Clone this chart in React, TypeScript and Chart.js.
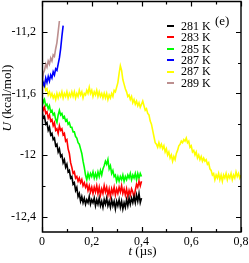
import React, { useEffect, useRef } from "react";
import { Chart, registerables } from "chart.js";

Chart.register(...registerables);

// ---- data ----
const tStep = 0.005;
const labels = ["281 K", "283 K", "285 K", "287 K", "287 K", "289 K"];
const colors = ["#000000", "#ff0000", "#00ff00", "#0000ff", "#ffff00", "#bc8f8f"];

const u281 = [
  -11.71, -11.76, -11.75, -11.8, -11.79, -11.84, -11.82, -11.87, -11.86, -11.9,
  -11.89, -11.94, -11.93, -11.98, -11.96, -12.01, -12.0, -12.05, -12.03, -12.08,
  -12.06, -12.11, -12.1, -12.15, -12.14, -12.19, -12.18, -12.23, -12.21, -12.27,
  -12.25, -12.3, -12.27, -12.31, -12.28, -12.32, -12.29, -12.31, -12.27, -12.32,
  -12.29, -12.31, -12.28, -12.33, -12.29, -12.32, -12.28, -12.33, -12.3, -12.34,
  -12.29, -12.32, -12.28, -12.33, -12.3, -12.34, -12.29, -12.33, -12.3, -12.35,
  -12.3, -12.33, -12.29, -12.34, -12.3, -12.35, -12.31, -12.34, -12.29, -12.33,
  -12.28, -12.32, -12.28, -12.31, -12.27, -12.31, -12.26, -12.3, -12.25, -12.31,
  -12.28,
];
const u283 = [
  -11.67, -11.71, -11.69, -11.73, -11.72, -11.76, -11.74, -11.78, -11.77, -11.81,
  -11.79, -11.84, -11.83, -11.86, -11.81, -11.84, -11.83, -11.87, -11.86, -11.91,
  -11.9, -11.96, -11.99, -12.05, -12.08, -12.12, -12.11, -12.15, -12.14, -12.17,
  -12.15, -12.18, -12.16, -12.2, -12.18, -12.21, -12.19, -12.23, -12.2, -12.24,
  -12.21, -12.25, -12.21, -12.24, -12.2, -12.25, -12.21, -12.26, -12.22, -12.25,
  -12.2, -12.24, -12.21, -12.26, -12.22, -12.27, -12.22, -12.25, -12.21, -12.26,
  -12.22, -12.25, -12.21, -12.24, -12.2, -12.25, -12.22, -12.26, -12.22, -12.27,
  -12.23, -12.26, -12.22, -12.24, -12.28, -12.23, -12.19, -12.21, -12.17, -12.2,
  -12.17,
];
const u285 = [
  -11.62, -11.66, -11.64, -11.68, -11.67, -11.7, -11.68, -11.72, -11.71, -11.74,
  -11.73, -11.77, -11.79, -11.74, -11.71, -11.74, -11.73, -11.76, -11.75, -11.78,
  -11.77, -11.8, -11.79, -11.82, -11.82, -11.85, -11.85, -11.88, -11.89, -11.92,
  -11.93, -11.96, -11.99, -12.04, -12.08, -12.13, -12.16, -12.12, -12.15, -12.12,
  -12.14, -12.11, -12.15, -12.12, -12.15, -12.11, -12.14, -12.1, -12.13, -12.09,
  -12.07, -12.04, -12.06, -12.03, -12.09, -12.07, -12.12, -12.1, -12.14, -12.13,
  -12.17, -12.14, -12.17, -12.14, -12.16, -12.13, -12.17, -12.14, -12.16, -12.13,
  -12.15, -12.12, -12.16, -12.13, -12.15, -12.12, -12.16, -12.12, -12.15, -12.12,
  -12.14,
];
const u287a = [
  -11.57, -11.53, -11.55, -11.5, -11.53, -11.49, -11.52, -11.48, -11.5, -11.46,
  -11.48, -11.44, -11.45, -11.41, -11.37, -11.31, -11.23, -11.16,
];
const u287b = [
  -11.51, -11.55, -11.53, -11.58, -11.57, -11.61, -11.59, -11.62, -11.6, -11.63,
  -11.61, -11.64, -11.6, -11.63, -11.6, -11.62, -11.59, -11.63, -11.6, -11.62,
  -11.59, -11.63, -11.6, -11.62, -11.59, -11.62, -11.59, -11.63, -11.6, -11.62,
  -11.58, -11.61, -11.59, -11.63, -11.6, -11.61, -11.58, -11.6, -11.56, -11.6,
  -11.58, -11.62, -11.59, -11.61, -11.58, -11.62, -11.59, -11.62, -11.6, -11.63,
  -11.6, -11.63, -11.6, -11.64, -11.61, -11.63, -11.6, -11.62, -11.58, -11.59,
  -11.56, -11.53, -11.47, -11.42, -11.45, -11.51, -11.54, -11.57, -11.59, -11.62,
  -11.61, -11.64, -11.62, -11.66, -11.64, -11.67, -11.65, -11.68, -11.66, -11.69,
  -11.67, -11.65, -11.68, -11.71, -11.7, -11.73, -11.74, -11.78, -11.8, -11.84,
  -11.88, -11.92, -11.93, -11.95, -11.92, -11.95, -11.93, -11.96, -11.94, -11.98,
  -11.96, -12.0, -11.98, -12.02, -12.0, -12.04, -12.01, -12.03, -11.99, -11.97,
  -11.94, -11.93, -11.91, -11.92, -11.9, -11.91, -11.89, -11.92, -11.91, -11.95,
  -11.94, -11.98, -11.97, -12.0, -11.98, -12.02, -12.0, -12.03, -12.01, -12.04,
  -12.02, -12.04, -12.03, -12.06, -12.05, -12.09, -12.1, -12.13, -12.12, -12.16,
  -12.13, -12.15, -12.12, -12.16, -12.13, -12.17, -12.13, -12.15, -12.12, -12.16,
  -12.13, -12.15, -12.12, -12.16, -12.13, -12.15, -12.11, -12.14, -12.12, -12.15,
  -12.13,
];
const u289 = [
  -11.55, -11.47, -11.45, -11.41, -11.43, -11.39, -11.41, -11.37, -11.39, -11.35,
  -11.36, -11.31, -11.27, -11.2, -11.13,
];

const xTickValues = [0, 0.2, 0.4, 0.6, 0.8];
const xTickLabels = ["0", "0,2", "0,4", "0,6", "0,8"];
const xMinorValues = [0.1, 0.3, 0.5, 0.7];
const yTickValues = [-12.4, -12, -11.6, -11.2];
const yTickLabels = ["-12,4", "-12", "-11,6", "-11,2"];
const yMinorValues = [-12.2, -11.8, -11.4];
const xRange = [0, 0.8];
const yRange = [-12.5, -11.0];

const series = [u281, u283, u285, u287a, u287b, u289];

const FONT = "'Liberation Serif', 'Times New Roman', serif";

function toPoints(arr: number[]) {
  return arr.map((v, i) => ({ x: +(i * tStep).toFixed(4), y: v }));
}

const framePlugin = {
  id: "frameTicks",
  afterDraw(chart: any) {
    const { ctx, chartArea } = chart;
    const { left, right, top, bottom } = chartArea;
    const xs = chart.scales.x;
    const ys = chart.scales.y;
    ctx.save();
    ctx.setLineDash([]);
    ctx.strokeStyle = "#000000";
    ctx.lineWidth = 1.4;
    const L = Math.round(left) + 0.5;
    const R = Math.round(right);
    const T = Math.round(top) + 0.5;
    const B = Math.round(bottom);
    ctx.beginPath();
    ctx.rect(L, T, R - L, B - T);
    ctx.stroke();
    ctx.lineWidth = 1.2;
    const drawX = (vals: number[], len: number) => {
      vals.forEach((v) => {
        const px = Math.round(xs.getPixelForValue(v)) + 0.5;
        ctx.beginPath();
        ctx.moveTo(px, B);
        ctx.lineTo(px, B - len);
        ctx.moveTo(px, T);
        ctx.lineTo(px, T + len);
        ctx.stroke();
      });
    };
    const drawY = (vals: number[], len: number) => {
      vals.forEach((v) => {
        const py = Math.round(ys.getPixelForValue(v)) + 0.5;
        ctx.beginPath();
        ctx.moveTo(L, py);
        ctx.lineTo(L + len, py);
        ctx.moveTo(R, py);
        ctx.lineTo(R - len, py);
        ctx.stroke();
      });
    };
    drawX(xTickValues, 5);
    drawX(xMinorValues, 3);
    drawY(yTickValues, 5);
    drawY(yMinorValues, 3);

    // legend
    ctx.font = `12px ${FONT}`;
    ctx.textBaseline = "middle";
    ctx.textAlign = "left";
    chart.data.datasets.forEach((ds: any, i: number) => {
      const cy = 26 + i * 11.45;
      ctx.strokeStyle = ds.borderColor;
      ctx.lineWidth = 2;
      ctx.beginPath();
      ctx.moveTo(167, Math.round(cy));
      ctx.lineTo(174, Math.round(cy));
      ctx.stroke();
      ctx.fillStyle = "#000";
      ctx.fillText(ds.label, 181, cy + 0.5);
    });
    ctx.font = `13px ${FONT}`;
    ctx.fillText("(e)", 215, 22);

    // axis titles
    ctx.fillStyle = "#000";
    ctx.textBaseline = "alphabetic";
    const italicX = "t";
    const restX = " (\u00b5s)";
    ctx.font = `italic 13px ${FONT}`;
    const w1 = ctx.measureText(italicX).width;
    ctx.font = `13px ${FONT}`;
    const w2 = ctx.measureText(restX).width;
    const cx = (left + right) / 2 + 1;
    const sx = cx - (w1 + w2) / 2;
    ctx.font = `italic 13px ${FONT}`;
    ctx.fillText(italicX, sx, 255);
    ctx.font = `13px ${FONT}`;
    ctx.fillText(restX, sx + w1, 255);

    ctx.save();
    ctx.translate(11, 98);
    ctx.rotate(-Math.PI / 2);
    const italicY = "U";
    const restY = " (kcal/mol)";
    ctx.font = `italic 13px ${FONT}`;
    const v1 = ctx.measureText(italicY).width;
    ctx.font = `13px ${FONT}`;
    const v2 = ctx.measureText(restY).width;
    const s = -(v1 + v2) / 2;
    ctx.font = `italic 13px ${FONT}`;
    ctx.fillText(italicY, s, 0);
    ctx.font = `13px ${FONT}`;
    ctx.fillText(restY, s + v1, 0);
    ctx.restore();
    ctx.restore();
  },
};

export default function App() {
  const ref = useRef<HTMLCanvasElement | null>(null);
  useEffect(() => {
    document.body.style.margin = "0";
    if (!ref.current) return;
    const chart = new Chart(ref.current, {
      type: "line",
      data: {
        datasets: series.map((arr, i) => ({
          label: labels[i],
          data: toPoints(arr),
          borderColor: colors[i],
          backgroundColor: colors[i],
          borderWidth: 1.6,
          pointRadius: 0,
          tension: 0,
          fill: false,
        })),
      },
      options: {
        animation: false,
        responsive: false,
        maintainAspectRatio: false,
        events: [],
        layout: { autoPadding: false, padding: { top: 1, right: 8, left: 0, bottom: 0 } },
        plugins: {
          legend: { display: false },
          tooltip: { enabled: false },
          title: { display: false },
        },
        scales: {
          x: {
            type: "linear",
            min: xRange[0],
            max: xRange[1],
            grid: { display: false, drawTicks: false },
            border: { display: false },
            ticks: {
              color: "#000",
              font: { family: FONT, size: 12 },
              padding: 3,
              maxRotation: 0,
              autoSkip: false,
              callback: (v: any) => {
                const idx = xTickValues.findIndex((t) => Math.abs(t - v) < 1e-9);
                return idx >= 0 ? xTickLabels[idx] : "";
              },
            },
            afterBuildTicks: (scale: any) => {
              scale.ticks = xTickValues.map((v) => ({ value: v }));
            },
            afterFit: (scale: any) => {
              scale.height = 31;
              scale.paddingLeft = 0;
              scale.paddingRight = 0;
            },
          },
          y: {
            type: "linear",
            min: yRange[0],
            max: yRange[1],
            grid: { display: false, drawTicks: false },
            border: { display: false },
            ticks: {
              color: "#000",
              font: { family: FONT, size: 12 },
              padding: 6,
              autoSkip: false,
              callback: (v: any) => {
                const idx = yTickValues.findIndex((t) => Math.abs(t - v) < 1e-9);
                return idx >= 0 ? yTickLabels[idx] : "";
              },
            },
            afterBuildTicks: (scale: any) => {
              scale.ticks = yTickValues.map((v) => ({ value: v }));
            },
            afterFit: (scale: any) => {
              scale.width = 42;
              scale.paddingTop = 0;
              scale.paddingBottom = 0;
            },
          },
        },
      },
      plugins: [framePlugin],
    });
    return () => chart.destroy();
  }, []);
  return <canvas ref={ref} width={249} height={263} style={{ display: "block" }} />;
}
